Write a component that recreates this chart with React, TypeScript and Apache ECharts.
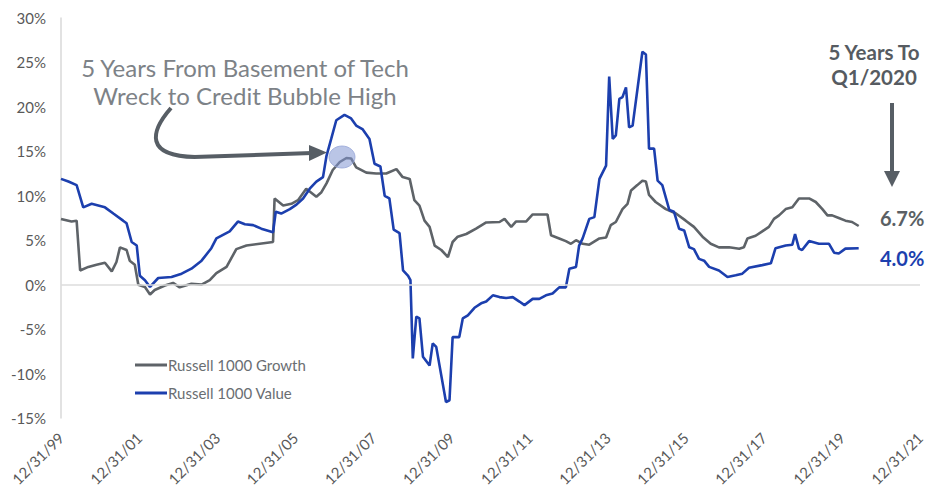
import React, { useEffect, useRef } from "react";
import * as echarts from "echarts";

// years since 12/31/99, rolling 5-year annualized return (%)
const growthPoints: [number, number][] = [
  [0, 7.4], [0.27, 7.1], [0.4, 7.2], [0.49, 1.6], [0.7, 2.0], [0.91, 2.25], [1.125, 2.47], [1.3, 1.5],
  [1.42, 2.55], [1.51, 4.2], [1.68, 3.9], [1.76, 2.7], [1.89, 2.25], [1.98, 0.0], [2.15, -0.26], [2.28, -1.1],
  [2.4, -0.6], [2.66, -0.1], [2.87, 0.2], [3.04, -0.3], [3.34, 0.1], [3.6, 0.0], [3.81, 0.5], [3.98, 1.3],
  [4.24, 2.0], [4.49, 4.0], [4.75, 4.4], [5.09, 4.6], [5.43, 4.8], [5.47, 9.7], [5.69, 8.9], [5.9, 9.1],
  [6.07, 9.5], [6.28, 10.8], [6.54, 9.9], [6.67, 10.4], [6.8, 11.4], [6.96, 12.9], [7.14, 13.8], [7.31, 14.25],
  [7.43, 14.2], [7.56, 13.2], [7.82, 12.6], [8.07, 12.5], [8.33, 12.5], [8.59, 13.0], [8.75, 12.1], [8.93, 11.9],
  [9.05, 9.5], [9.18, 8.9], [9.31, 7.2], [9.44, 6.5], [9.57, 4.4], [9.74, 3.9], [9.91, 3.1], [10.03, 4.8],
  [10.16, 5.4], [10.38, 5.7], [10.63, 6.3], [10.89, 7.0], [11.23, 7.05], [11.36, 7.4], [11.53, 6.5], [11.65, 7.1],
  [11.91, 7.1], [12.08, 7.9], [12.46, 7.9], [12.55, 5.55], [12.76, 5.2], [12.93, 4.9], [13.06, 4.6], [13.19, 5.0],
  [13.36, 4.6], [13.53, 4.5], [13.79, 5.2], [13.96, 5.3], [14.08, 6.7], [14.21, 7.05], [14.38, 8.5], [14.51, 9.1],
  [14.6, 10.6], [14.76, 11.2], [14.89, 11.7], [14.98, 11.6], [15.06, 10.1], [15.23, 9.3], [15.49, 8.5], [15.75, 8.0],
  [16.0, 7.2], [16.21, 6.5], [16.43, 5.4], [16.64, 4.6], [16.85, 4.2], [17.11, 4.2], [17.37, 4.05], [17.49, 4.2],
  [17.58, 5.2], [17.79, 5.5], [17.96, 6.0], [18.13, 6.5], [18.26, 7.4], [18.39, 7.8], [18.56, 8.5], [18.73, 8.7],
  [18.9, 9.7], [19.16, 9.7], [19.33, 9.3], [19.5, 8.5], [19.63, 7.8], [19.75, 7.8], [19.92, 7.5], [20.09, 7.2],
  [20.26, 7.05], [20.43, 6.6],
];

const valuePoints: [number, number][] = [
  [0, 11.9], [0.19, 11.6], [0.4, 11.2], [0.57, 8.7], [0.785, 9.1], [1.125, 8.7], [1.34, 8.0], [1.59, 7.2],
  [1.68, 6.9], [1.81, 4.8], [1.94, 4.4], [2.02, 1.0], [2.15, 0.5], [2.28, -0.26], [2.49, 0.75], [2.83, 0.87],
  [3.09, 1.24], [3.34, 1.8], [3.6, 2.7], [3.85, 4.1], [3.98, 5.2], [4.15, 5.6], [4.32, 6.0], [4.53, 7.1],
  [4.71, 6.8], [4.92, 6.7], [5.13, 6.3], [5.43, 5.9], [5.5, 8.2], [5.64, 8.0], [5.86, 8.5], [6.03, 9.0],
  [6.2, 9.7], [6.37, 10.8], [6.54, 11.6], [6.71, 12.1], [6.8, 14.5], [6.92, 16.4], [7.05, 18.5], [7.26, 19.1],
  [7.43, 18.7], [7.56, 17.9], [7.72, 17.5], [7.9, 16.4], [8.03, 13.6], [8.18, 13.3], [8.29, 10.0], [8.41, 9.7],
  [8.52, 6.2], [8.67, 5.8], [8.76, 1.6], [8.89, 1.0], [8.95, 0.5], [9.01, -8.3], [9.1, -3.6], [9.18, -3.8],
  [9.27, -8.1], [9.44, -9.1], [9.52, -6.6], [9.61, -7.0], [9.86, -13.2], [9.95, -13.0], [10.03, -5.9], [10.2, -5.9],
  [10.29, -3.8], [10.42, -3.45], [10.59, -2.6], [10.76, -2.1], [10.89, -1.9], [11.06, -1.2], [11.23, -1.4], [11.4, -1.5],
  [11.57, -1.4], [11.74, -1.9], [11.87, -2.3], [12.08, -1.6], [12.25, -1.6], [12.42, -1.2], [12.59, -1.0], [12.76, -0.3],
  [12.93, -0.3], [13.02, 1.8], [13.19, 2.0], [13.27, 4.4], [13.36, 5.2], [13.53, 7.4], [13.66, 7.6], [13.79, 11.9],
  [13.96, 13.4], [14.04, 23.4], [14.13, 16.4], [14.21, 16.8], [14.3, 20.9], [14.38, 21.1], [14.47, 22.2], [14.55, 17.7],
  [14.64, 17.9], [14.89, 26.2], [14.98, 25.9], [15.06, 15.3], [15.19, 15.3], [15.28, 11.7], [15.4, 11.2], [15.58, 8.4],
  [15.7, 8.2], [15.83, 6.3], [15.96, 6.1], [16.09, 4.2], [16.21, 4.0], [16.34, 2.9], [16.47, 2.7], [16.6, 2.0],
  [16.85, 1.6], [17.07, 0.87], [17.28, 1.05], [17.45, 1.24], [17.62, 1.9], [17.96, 2.2], [18.18, 2.4], [18.3, 4.1],
  [18.56, 4.4], [18.73, 4.5], [18.8, 5.7], [18.9, 4.05], [18.98, 3.9], [19.16, 4.9], [19.41, 4.6], [19.67, 4.6],
  [19.8, 3.6], [19.92, 3.5], [20.09, 4.05], [20.43, 4.1],
];

const seriesNames = ["Russell 1000 Growth", "Russell 1000 Value"];
const endLabels = ["6.7%", "4.0%"];
const annotationLines = ["5 Years From Basement of Tech", "Wreck to Credit Bubble High"];
const rightNoteLines = ["5 Years To", "Q1/2020"];
const baseYear = 1999;

const GRAY = "#5e6368";
const BLUE = "#1c3fae";
const ARROW = "#575e65";
const FONT = "Lato, 'Noto Sans', sans-serif";

export default function App() {
  const ref = useRef<HTMLDivElement>(null);
  useEffect(() => {
    if (!ref.current) return;
    const chart = echarts.init(ref.current, undefined, { renderer: "svg" });
    chart.setOption({
      animation: false,
      backgroundColor: "#ffffff",
      grid: { left: 61, right: 7, top: 18, bottom: 79, outerBoundsMode: "none" },
      xAxis: {
        type: "value",
        min: 0,
        max: 22,
        interval: 2,
        axisLine: { show: false },
        axisTick: { show: false },
        splitLine: { show: false },
        axisLabel: {
          rotate: 45,
          margin: 17,
          color: "#595959",
          fontSize: 15,
          fontFamily: FONT,
          formatter: (v: number) => {
            const yy = (baseYear + v) % 100;
            return "12/31/" + (yy < 10 ? "0" + yy : String(yy));
          },
        },
      },
      yAxis: {
        type: "value",
        min: -15,
        max: 30,
        interval: 5,
        axisLine: { show: true, lineStyle: { color: "#d9d9d9", width: 1.5 } },
        axisTick: { show: false },
        splitLine: { show: false },
        axisLabel: {
          margin: 15,
          color: "#595959",
          fontSize: 15,
          fontFamily: FONT,
          formatter: "{value}%",
        },
      },
      legend: {
        orient: "vertical",
        left: 135,
        top: 357,
        padding: 0,
        itemWidth: 32,
        itemHeight: 3,
        itemGap: 12,
        icon: "rect",
        textStyle: { color: "#6a6e72", fontSize: 15, fontFamily: FONT, lineHeight: 16, padding: [0, 0, 0, -4] },
        data: seriesNames,
      },
      series: [
        {
          name: seriesNames[0],
          type: "line",
          data: growthPoints,
          showSymbol: false,
          symbol: "none",
          lineStyle: { color: GRAY, width: 2.6 },
          itemStyle: { color: GRAY },
          z: 2,
          markLine: {
            silent: true,
            symbol: "none",
            label: { show: false },
            lineStyle: { color: "#dcdcdc", width: 1.5, type: "solid" },
            data: [{ yAxis: 0 }],
          },
        },
        {
          name: seriesNames[1],
          type: "line",
          data: valuePoints,
          showSymbol: false,
          symbol: "none",
          lineStyle: { color: BLUE, width: 2.6 },
          itemStyle: { color: BLUE },
          z: 3,
        },
      ],
      graphic: [
        {
          type: "text",
          style: {
            text: annotationLines.join("\n"),
            fill: "#7d8287",
            font: `24px ${FONT}`,
            align: "center",
            lineHeight: 28,
          },
          x: 245,
          y: 53,
        },
        {
          type: "ellipse",
          shape: { cx: 342, cy: 157, rx: 13, ry: 11 },
          style: { fill: "rgba(130,150,210,0.55)", stroke: "rgba(150,165,215,0.8)", lineWidth: 1 },
          z: 10,
        },
        {
          type: "bezierCurve",
          shape: { x1: 171, y1: 108, cpx1: 150, cpy1: 132, cpx2: 145, cpy2: 156, x2: 195, y2: 157 },
          style: { stroke: ARROW, lineWidth: 4, fill: null },
          z: 10,
        },
        {
          type: "line",
          shape: { x1: 194, y1: 157, x2: 312, y2: 153 },
          style: { stroke: ARROW, lineWidth: 4 },
          z: 10,
        },
        {
          type: "polygon",
          shape: { points: [[327, 152.5], [309, 145], [309, 161]] },
          style: { fill: ARROW },
          z: 10,
        },
        {
          type: "text",
          style: {
            text: rightNoteLines.join("\n"),
            fill: "#565b61",
            font: `bold 20.5px ${FONT}`,
            align: "center",
            lineHeight: 25,
          },
          x: 874,
          y: 39,
        },
        {
          type: "line",
          shape: { x1: 892, y1: 103, x2: 892, y2: 174 },
          style: { stroke: ARROW, lineWidth: 4 },
        },
        {
          type: "polygon",
          shape: { points: [[884, 171], [900, 171], [892, 187]] },
          style: { fill: ARROW },
        },
        {
          type: "text",
          style: { text: endLabels[0], fill: "#5a5f64", font: `bold 20px ${FONT}`, align: "left", verticalAlign: "middle" },
          x: 880,
          y: 218,
        },
        {
          type: "text",
          style: { text: endLabels[1], fill: BLUE, font: `bold 20px ${FONT}`, align: "left", verticalAlign: "middle" },
          x: 880,
          y: 258,
        },
      ],
    });
    return () => chart.dispose();
  }, []);
  return <div ref={ref} style={{ width: 927, height: 497, position: "absolute", left: 0, top: 0 }} />;
}
